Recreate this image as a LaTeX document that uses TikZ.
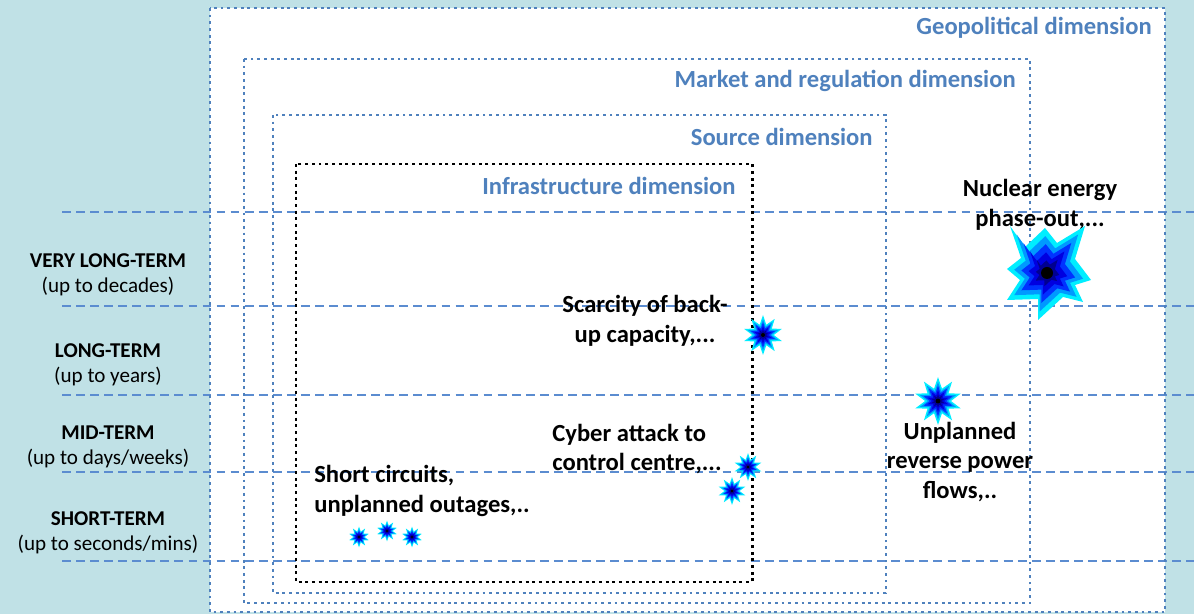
\documentclass[tikz,border=0pt]{standalone}
\usepackage{fontspec}
\setmainfont{Carlito}
\usetikzlibrary{shapes.geometric}

\definecolor{bgblue}{HTML}{C0E1E6}
\definecolor{dimblue}{HTML}{4F81BD}
\definecolor{gridblue}{HTML}{5B8CD0}
\definecolor{burstcyan}{HTML}{00EEFF}
\definecolor{burstsky}{HTML}{0099FF}
\definecolor{burstblue}{HTML}{0033FF}
\definecolor{burstdeep}{HTML}{0000E0}
\definecolor{burstnavy}{HTML}{000090}

% name, centre, size (px)
\newcommand{\burst}[3]{%
  \node[burst, fill=burstcyan, minimum size=#3*0.5669pt] (#1) at (#2) {};
  \foreach \s/\c in {0.8/burstsky,0.64/burstblue,0.46/burstdeep,0.28/burstnavy}
    \node[burst, fill=\c, minimum size=#3*0.5669pt*\s] at (#1) {};
  \fill (#1) circle[radius=#3*0.05];
}

\begin{document}
\begin{tikzpicture}[x=0.02cm,y=-0.02cm]
\tikzset{dimbox/.style={draw=dimblue, line width=1.6pt, dash pattern=on 1.6pt off 2.2pt}}
\tikzset{infrabox/.style={draw=black, line width=1.7pt, dash pattern=on 1.7pt off 2.1pt}}
\tikzset{gridline/.style={draw=gridblue, line width=0.8pt, dash pattern=on 5pt off 3pt}}
\tikzset{dimlabel/.style={anchor=east, inner sep=0pt, text=dimblue, font=\fontsize{14}{17}\selectfont\bfseries}}
\tikzset{termlabel/.style={align=center, inner sep=0pt, font=\fontsize{12}{14.5}\selectfont}}
\tikzset{risklabel/.style={inner sep=0pt, font=\fontsize{14}{17}\selectfont\bfseries}}
\tikzset{burst/.style={star, star points=10, star point ratio=1.85, inner sep=0pt}}
\useasboundingbox (0,0) rectangle (1194,614);
\fill[bgblue] (0,0) rectangle (1194,614);
\fill[white] (210,8) rectangle (1165,612);
% time horizons
\foreach \y in {212,306,395,472,561}
  \draw[gridline] (62,\y) -- (1194,\y);
% dimensions
\draw[dimbox] (210,8) rectangle (1165,612);
\draw[dimbox] (244,59) rectangle (1030,603);
\draw[dimbox] (273,115) rectangle (886,593);
\draw[infrabox] (296,164) rectangle (752,582);
\node[dimlabel] (geo) at (1152,28) {Geopolitical dimension};
\node[dimlabel] (market) at (1016,81) {Market and regulation dimension};
\node[dimlabel] (source) at (873,137) {Source dimension};
\node[dimlabel] (infra) at (736,186) {Infrastructure dimension};
\node[termlabel] (vlong) at (108,275) {\textbf{VERY LONG-TERM}\\(up to decades)};
\node[termlabel] (long) at (108,365) {\textbf{LONG-TERM}\\(up to years)};
\node[termlabel] (mid) at (108,447) {\textbf{MID-TERM}\\(up to days/weeks)};
\node[termlabel] (short) at (108,533) {\textbf{SHORT-TERM}\\(up to seconds/mins)};
% risks
\node[risklabel, align=center] (nuclear) at (1040,205) {Nuclear energy\\phase-out,...};
\node[risklabel, align=center] (scarcity) at (645,321) {Scarcity of back-\\up capacity,...};
\node[risklabel, align=left, anchor=west] (cyber) at (552,449) {Cyber attack to\\control centre,...};
\node[risklabel, align=left, anchor=west] (circuits) at (314,491) {Short circuits,\\unplanned outages,..};
\node[risklabel, align=center] (reverse) at (960,462) {Unplanned\\reverse power\\flows,..};
% big explosion
\coordinate (nuclearstar) at (1047,273);
\foreach \s/\c in {1/burstcyan,0.82/burstsky,0.64/burstblue,0.46/burstdeep,0.28/burstnavy}
  \fill[\c, shift={(nuclearstar)}, scale=\s]
    (-37,-47) -- (-22,-26) -- (-2,-45) -- (10,-30) -- (38,-47) -- (28,-14)
    -- (44,7) -- (28,12) -- (36,29) -- (16,24) -- (-9,47) -- (-9,26)
    -- (-40,27) -- (-27,7) -- (-40,-4) -- (-26,-15) -- cycle;
\fill (nuclearstar) circle[radius=6];
\burst{scarcitystar}{763,335}{40}
\burst{reversestar}{938,401}{48}
\burst{cyberstara}{748,467}{28}
\burst{cyberstarb}{732,491}{28}
\burst{circuitstara}{359,537}{21}
\burst{circuitstarb}{387,531}{21}
\burst{circuitstarc}{412,537}{21}
\end{tikzpicture}
\end{document}
